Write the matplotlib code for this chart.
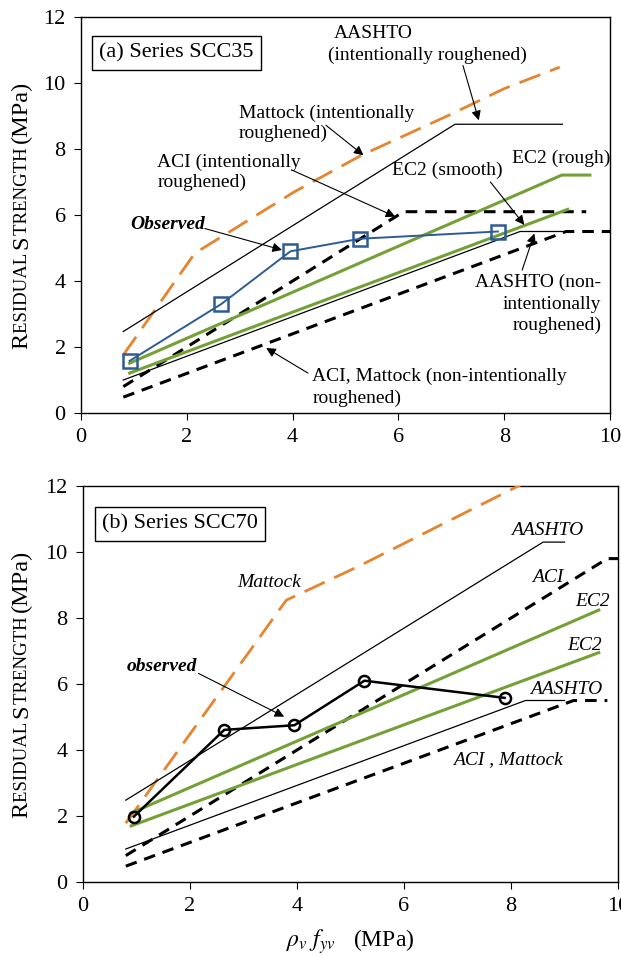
import matplotlib
matplotlib.use("Agg")
import matplotlib.pyplot as plt
import matplotlib.transforms as mtransforms

plt.rcParams['font.family'] = ['Liberation Serif', 'DejaVu Serif']
plt.rcParams['mathtext.fontset'] = 'stix'

# ---------------- Data: panel (a) Series SCC35 ----------------
a_obs_x = [0.92, 2.65, 3.96, 5.27, 7.88]
a_obs_y = [1.58, 3.30, 4.90, 5.28, 5.50]

a_mattock_int_x = [0.80, 2.15, 4.03, 5.30, 6.95, 8.00, 9.05]
a_mattock_int_y = [1.76, 4.84, 6.70, 7.81, 9.02, 9.83, 10.48]

a_aashto_int_x = [0.80, 7.07, 9.10]
a_aashto_int_y = [2.47, 8.75, 8.75]

a_aci_int_x = [0.80, 6.10, 9.55]
a_aci_int_y = [0.80, 6.10, 6.10]

a_aci_non_x = [0.80, 9.17, 10.0]
a_aci_non_y = [0.48, 5.50, 5.50]

a_aashto_non_x = [0.80, 8.30, 9.10]
a_aashto_non_y = [1.00, 5.50, 5.50]

a_ec2_rough_x = [0.92, 9.09, 9.62]
a_ec2_rough_y = [1.51, 7.21, 7.21]

a_ec2_smooth_x = [0.92, 9.20]
a_ec2_smooth_y = [1.21, 6.17]

# ---------------- Data: panel (b) Series SCC70 ----------------
b_obs_x = [0.95, 2.64, 3.95, 5.26, 7.88]
b_obs_y = [1.98, 4.61, 4.75, 6.10, 5.58]

b_mattock_x = [0.80, 3.80, 5.13, 8.16, 9.60]
b_mattock_y = [1.78, 8.54, 9.55, 12.02, 13.10]

b_aashto_int_x = [0.80, 8.60, 9.00]
b_aashto_int_y = [2.48, 10.30, 10.30]

b_aci_int_x = [0.80, 9.80, 10.0]
b_aci_int_y = [0.80, 9.80, 9.80]

b_aci_non_x = [0.80, 9.17, 9.80]
b_aci_non_y = [0.48, 5.50, 5.50]

b_aashto_non_x = [0.80, 8.27, 9.00]
b_aashto_non_y = [1.00, 5.50, 5.50]

b_ec2_rough_x = [0.90, 9.64]
b_ec2_rough_y = [2.09, 8.24]

b_ec2_smooth_x = [0.90, 9.64]
b_ec2_smooth_y = [1.70, 6.95]

x_ticks = [0, 2, 4, 6, 8, 10]
y_ticks = [0, 2, 4, 6, 8, 10, 12]

ORANGE = '#E5852F'
GREEN = '#74A036'
BLUE = '#2D5B93'

fig = plt.figure(figsize=(6.21, 9.56), dpi=100)
ax_a = fig.add_axes([81/621, 1-413/956, 529/621, 396/956])
ax_b = fig.add_axes([83/621, 1-882/956, 535/621, 396/956])

TICK_FS = 16
ANN_FS = 14

def style_axes(ax):
    ax.set_xlim(0, 10)
    ax.set_ylim(0, 12)
    ax.set_xticks(x_ticks)
    ax.set_yticks(y_ticks)
    ax.tick_params(direction='out', length=5, width=0.8, labelsize=TICK_FS,
                   top=False, right=False, pad=6)
    for s in ax.spines.values():
        s.set_linewidth(1.0)
        s.set_color('black')

def draw_lines(ax, d):
    ax.plot(d['mat_x'], d['mat_y'], color=ORANGE, lw=2.0, dashes=(8, 3.8), zorder=3)
    ax.plot(d['aint_x'], d['aint_y'], color='black', lw=0.9, zorder=3)
    ax.plot(d['cint_x'], d['cint_y'], color='black', lw=2.2, dashes=(3.8, 2.6), zorder=3)
    ax.plot(d['cnon_x'], d['cnon_y'], color='black', lw=2.2, dashes=(3.8, 2.6), zorder=3)
    ax.plot(d['anon_x'], d['anon_y'], color='black', lw=0.9, zorder=3)
    ax.plot(d['er_x'], d['er_y'], color=GREEN, lw=2.2, zorder=3)
    ax.plot(d['es_x'], d['es_y'], color=GREEN, lw=2.2, zorder=3)

# ---------------- Panel (a) ----------------
style_axes(ax_a)
draw_lines(ax_a, dict(mat_x=a_mattock_int_x, mat_y=a_mattock_int_y,
                      aint_x=a_aashto_int_x, aint_y=a_aashto_int_y,
                      cint_x=a_aci_int_x, cint_y=a_aci_int_y,
                      cnon_x=a_aci_non_x, cnon_y=a_aci_non_y,
                      anon_x=a_aashto_non_x, anon_y=a_aashto_non_y,
                      er_x=a_ec2_rough_x, er_y=a_ec2_rough_y,
                      es_x=a_ec2_smooth_x, es_y=a_ec2_smooth_y))
ax_a.plot(a_obs_x, a_obs_y, color=BLUE, lw=1.4, marker='s', ms=9.5,
          mfc='none', mec=BLUE, mew=1.8, zorder=4)

arrow = dict(arrowstyle='-|>', color='black', lw=0.8, mutation_scale=14,
             shrinkA=0, shrinkB=0)

ax_a.text(1.8, 10.9, '(a) Series SCC35', fontsize=16, ha='center', va='center',
          bbox=dict(boxstyle='square,pad=0.33', fc='white', ec='black', lw=1.0), zorder=5)
ax_a.text(4.78, 11.49, 'AASHTO', fontsize=ANN_FS, ha='left', va='center')
ax_a.text(4.67, 10.84, '(intentionally roughened)', fontsize=ANN_FS, ha='left', va='center')
ax_a.annotate('', xy=(7.52, 8.87), xytext=(7.22, 10.53), arrowprops=arrow)
ax_a.text(2.98, 9.07, 'Mattock (intentionally', fontsize=ANN_FS, ha='left', va='center')
ax_a.text(2.98, 8.47, 'roughened)', fontsize=ANN_FS, ha='left', va='center')
ax_a.annotate('', xy=(5.34, 7.81), xytext=(4.63, 8.72), arrowprops=arrow)
ax_a.text(1.44, 7.61, 'ACI (intentionally', fontsize=ANN_FS, ha='left', va='center')
ax_a.text(1.44, 7.00, 'roughened)', fontsize=ANN_FS, ha='left', va='center')
ax_a.annotate('', xy=(5.94, 5.95), xytext=(3.99, 7.36), arrowprops=arrow)
ax_a.text(6.93, 7.36, 'EC2 (smooth)', fontsize=ANN_FS, ha='center', va='center')
ax_a.annotate('', xy=(8.38, 5.70), xytext=(7.74, 7.00), arrowprops=arrow)
ax_a.text(9.07, 7.71, 'EC2 (rough)', fontsize=ANN_FS, ha='center', va='center')
ax_a.text(2.34, 5.70, 'Observed', fontsize=ANN_FS, ha='right', va='center',
          fontweight='bold', fontstyle='italic')
ax_a.annotate('', xy=(3.80, 4.94), xytext=(2.34, 5.59), arrowprops=arrow)
ax_a.text(9.84, 3.95, 'AASHTO (non-', fontsize=ANN_FS, ha='right', va='center')
ax_a.text(9.84, 3.28, 'intentionally', fontsize=ANN_FS, ha='right', va='center')
ax_a.text(9.84, 2.67, 'roughened)', fontsize=ANN_FS, ha='right', va='center')
ax_a.annotate('', xy=(8.57, 5.44), xytext=(8.34, 4.33), arrowprops=arrow)
ax_a.text(4.37, 1.11, 'ACI, Mattock (non-intentionally', fontsize=ANN_FS, ha='left', va='center')
ax_a.text(4.37, 0.45, 'roughened)', fontsize=ANN_FS, ha='left', va='center')
ax_a.annotate('', xy=(3.50, 1.97), xytext=(4.29, 1.21), arrowprops=arrow)

# ---------------- Panel (b) ----------------
style_axes(ax_b)
draw_lines(ax_b, dict(mat_x=b_mattock_x, mat_y=b_mattock_y,
                      aint_x=b_aashto_int_x, aint_y=b_aashto_int_y,
                      cint_x=b_aci_int_x, cint_y=b_aci_int_y,
                      cnon_x=b_aci_non_x, cnon_y=b_aci_non_y,
                      anon_x=b_aashto_non_x, anon_y=b_aashto_non_y,
                      er_x=b_ec2_rough_x, er_y=b_ec2_rough_y,
                      es_x=b_ec2_smooth_x, es_y=b_ec2_smooth_y))
ax_b.plot(b_obs_x, b_obs_y, color='black', lw=1.8, marker='o', ms=8,
          mfc='none', mec='black', mew=1.8, zorder=4)

ax_b.text(1.81, 10.86, '(b) Series SCC70', fontsize=16, ha='center', va='center',
          bbox=dict(boxstyle='square,pad=0.33', fc='white', ec='black', lw=1.0), zorder=5)
it = dict(fontsize=ANN_FS, fontstyle='italic', va='center')
ax_b.text(8.68, 10.66, 'AASHTO', ha='center', **it)
ax_b.text(8.68, 9.24, 'ACI', ha='center', **it)
ax_b.text(9.53, 8.49, 'EC2', ha='center', **it)
ax_b.text(9.38, 7.18, 'EC2', ha='center', **it)
ax_b.text(9.03, 5.82, 'AASHTO', ha='center', **it)
ax_b.text(7.94, 3.70, 'ACI , Mattock', ha='center', **it)
ax_b.text(3.48, 9.09, 'Mattock', ha='center', **it)
ax_b.text(1.48, 6.52, 'observed', ha='center', fontsize=ANN_FS, fontstyle='italic',
          fontweight='bold', va='center')
ax_b.annotate('', xy=(3.76, 5.01), xytext=(2.16, 6.32), arrowprops=arrow)

ax_b.set_xlabel(r'$\rho_v\ f_{yv}$   (MPa)', fontsize=17, labelpad=8)

# ---------------- Small-caps y labels ----------------
def smallcaps_ylabel(ax, x_px):
    big, small = 17.5, 13.5
    parts = [('R', big), ('ESIDUAL ', small), ('S', big), ('TRENGTH ', small), ('(MPa)', big)]
    renderer = fig.canvas.get_renderer()
    texts = []
    for s, size in parts:
        t = fig.text(0, 0, s, fontsize=size, rotation=90, rotation_mode='anchor',
                     ha='left', va='baseline', transform=mtransforms.IdentityTransform())
        texts.append(t)
    lengths = [t.get_window_extent(renderer).height for t in texts]
    total = sum(lengths)
    bb = ax.get_window_extent(renderer)
    y = (bb.y0 + bb.y1) / 2 - total / 2
    for t, l in zip(texts, lengths):
        t.set_position((x_px, y))
        y += l

fig.canvas.draw()
smallcaps_ylabel(ax_a, 27)
smallcaps_ylabel(ax_b, 27)

fig.savefig('out.png', dpi=100)
